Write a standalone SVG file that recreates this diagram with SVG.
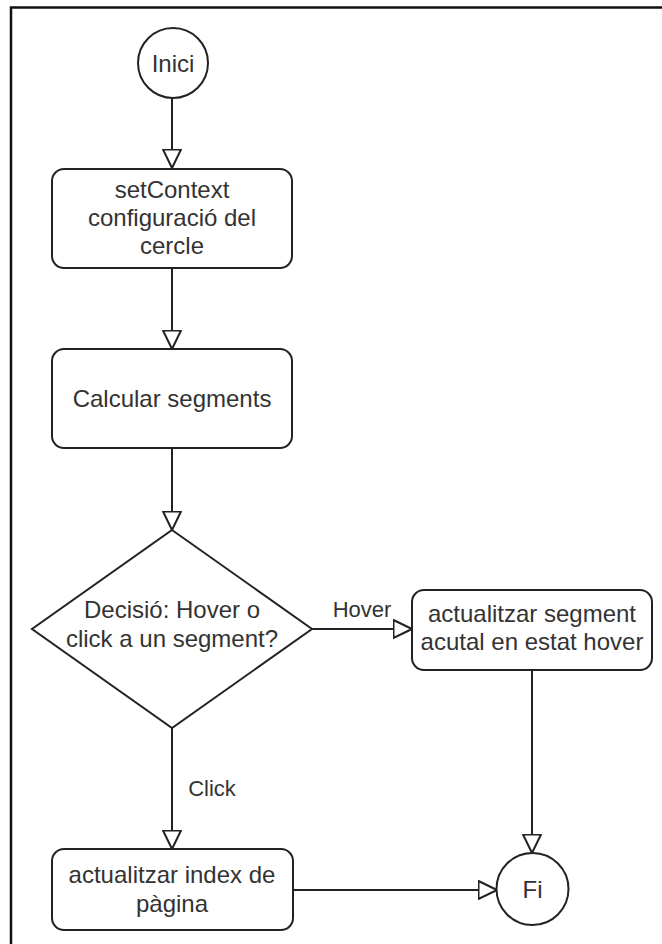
<svg xmlns="http://www.w3.org/2000/svg" width="662" height="944" viewBox="0 0 662 944">
  <style>
    .shape { fill: #ffffff; stroke: #222222; stroke-width: 2; }
    .edge { fill: none; stroke: #222222; stroke-width: 2; }
    .label { font-family: "Liberation Sans", Arial, sans-serif; font-size: 24px; fill: #333333; text-anchor: middle; }
    .edge-label { font-family: "Liberation Sans", Arial, sans-serif; font-size: 22px; fill: #333333; text-anchor: middle; }
  </style>
  <defs>
    <marker id="open-arrow" viewBox="0 0 21 20" refX="19.5" refY="10" markerWidth="21" markerHeight="20" markerUnits="userSpaceOnUse" orient="auto">
      <path d="M1,1 L19.5,10 L1,19 Z" fill="#ffffff" stroke="#222222" stroke-width="2" stroke-linejoin="miter"/>
    </marker>
  </defs>

  <rect width="662" height="944" fill="#ffffff"/>
  <!-- frame -->
  <path d="M11,960 V7.5 H680" fill="none" stroke="#111111" stroke-width="2.5"/>

  <!-- connectors -->
  <g id="connectors">
    <path class="edge" d="M172,98 V168" marker-end="url(#open-arrow)"/>
    <path class="edge" d="M172,268 V349" marker-end="url(#open-arrow)"/>
    <path class="edge" d="M172,448 V530" marker-end="url(#open-arrow)"/>
    <path class="edge" d="M312,629 H412" marker-end="url(#open-arrow)"/>
    <text class="edge-label" x="362" y="617">Hover</text>
    <path class="edge" d="M172,728 V849" marker-end="url(#open-arrow)"/>
    <text class="edge-label" x="212" y="796">Click</text>
    <path class="edge" d="M532,670 V853" marker-end="url(#open-arrow)"/>
    <path class="edge" d="M293,890 H497" marker-end="url(#open-arrow)"/>
  </g>

  <g id="start">
    <circle class="shape" cx="173" cy="63" r="35"/>
    <text class="label" x="173" y="72">Inici</text>
  </g>

  <g id="set-context">
    <rect class="shape" x="52" y="169" width="240" height="99" rx="12"/>
    <text class="label" x="172" y="198">setContext</text>
    <text class="label" x="172" y="226">configuració del</text>
    <text class="label" x="172" y="254">cercle</text>
  </g>

  <g id="calc-segments">
    <rect class="shape" x="52" y="349" width="240" height="99" rx="12"/>
    <text class="label" x="172" y="407">Calcular segments</text>
  </g>

  <g id="decision">
    <polygon class="shape" points="172,530 312,629 172,728 32,629"/>
    <text class="label" x="172" y="618">Decisió: Hover o</text>
    <text class="label" x="172" y="647">click a un segment?</text>
  </g>

  <g id="hover-update">
    <rect class="shape" x="412" y="590" width="240" height="80" rx="12"/>
    <text class="label" x="532" y="622">actualitzar segment</text>
    <text class="label" x="532" y="650">acutal en estat hover</text>
  </g>

  <g id="page-update">
    <rect class="shape" x="52" y="849" width="241" height="81" rx="12"/>
    <text class="label" x="172" y="883">actualitzar index de</text>
    <text class="label" x="172" y="912">pàgina</text>
  </g>

  <g id="end">
    <circle class="shape" cx="532.5" cy="889" r="36"/>
    <text class="label" x="532.5" y="898">Fi</text>
  </g>
</svg>
